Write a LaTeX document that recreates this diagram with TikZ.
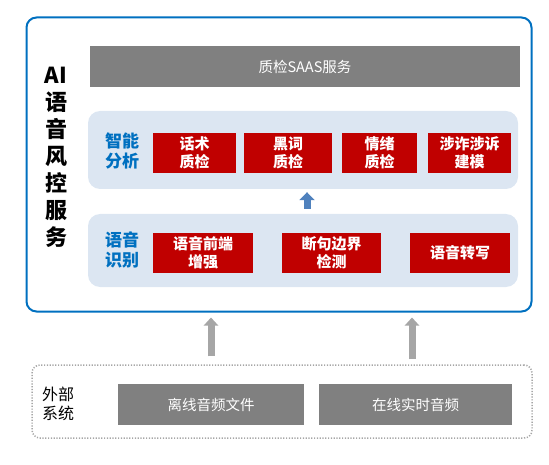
\documentclass[tikz,border=0pt]{standalone}
\usepackage{fontspec}
\setmainfont{Noto Sans CJK SC}
\usetikzlibrary{arrows.meta}

\definecolor{frameblue}{RGB}{0,112,192}
\definecolor{panelblue}{RGB}{220,230,242}
\definecolor{riskred}{RGB}{192,0,0}
\definecolor{bargray}{RGB}{128,128,128}
\definecolor{arrowgray}{RGB}{166,166,166}
\definecolor{arrowblue}{RGB}{79,129,189}

\tikzset{
  frame/.style={draw=frameblue, line width=2pt, rounded corners=10pt},
  panel/.style={fill=panelblue, rounded corners=12pt},
  redbox/.style={fill=riskred, text=white, align=center, inner sep=0pt,
    font=\bfseries\fontsize{15}{18}\selectfont},
  graybox/.style={fill=bargray, text=white, inner sep=0pt,
    font=\fontsize{14.5}{17}\selectfont},
  tag/.style={text=frameblue, align=center, font=\bfseries\fontsize{17}{20}\selectfont},
  bluearrow/.style={draw=arrowblue, line width=7pt, -{Triangle[width=15pt,length=8pt]}},
  grayarrow/.style={draw=arrowgray, line width=7pt, -{Triangle[width=14pt,length=8pt]}}
}

\begin{document}
\begin{tikzpicture}[x=1pt,y=-1pt]
\useasboundingbox (0,0) rectangle (549,465);

\node[frame, minimum width=505pt, minimum height=294pt] (main) at (279,164.5) {};

\node[align=center, font=\bfseries\fontsize{22}{27}\selectfont] (title) at (56,157)
  {AI\\语\\音\\风\\控\\服\\务};

\node[graybox, minimum width=430pt, minimum height=41pt] (saas) at (305,66.5) {质检SAAS服务};

\node[panel, minimum width=430pt, minimum height=78pt] (ai) at (303,150) {};
\node[panel, minimum width=430pt, minimum height=73pt] (asr) at (303,250.5) {};

\node[tag] (aitag) at (122,151) {智能\\分析};
\node[tag] (asrtag) at (122,250) {语音\\识别};

\node[redbox, minimum width=83pt, minimum height=40pt] (r1) at (194.5,153) {话术\\质检};
\node[redbox, minimum width=88pt, minimum height=40pt] (r2) at (288,153) {黑词\\质检};
\node[redbox, minimum width=75pt, minimum height=40pt] (r3) at (379.5,153) {情绪\\质检};
\node[redbox, minimum width=83pt, minimum height=40pt] (r4) at (469.5,153) {涉诈涉诉\\建模};

\node[redbox, minimum width=100pt, minimum height=40pt] (s1) at (203,253) {语音前端\\增强};
\node[redbox, minimum width=99pt, minimum height=40pt] (s2) at (331.5,253) {断句边界\\检测};
\node[redbox, minimum width=100pt, minimum height=40pt] (s3) at (460,253) {语音转写};

\node[draw=arrowgray, dash pattern=on 1.2pt off 1.6pt, line width=1.5pt, rounded corners=8pt,
  minimum width=500pt, minimum height=73pt] (ext) at (282,401.5) {};
\node[align=center, font=\fontsize{16}{19}\selectfont] (exttag) at (58,404) {外部\\系统};

\node[graybox, minimum width=186pt, minimum height=41pt] (offline) at (211,404.5) {离线音频文件};
\node[graybox, minimum width=193pt, minimum height=41pt] (online) at (415.5,404.5) {在线实时音频};

\path ([xshift=4pt]asr.north) edge [bluearrow, shorten <=5pt, shorten >=3pt] ([xshift=4pt]ai.south);

\path (offline.north |- ext.north) edge [grayarrow, shorten <=8pt, shorten >=5pt] (offline.north |- main.south);
\path ([xshift=-3.5pt]online.north |- ext.north) edge [grayarrow, shorten <=5pt, shorten >=5pt] ([xshift=-3.5pt]online.north |- main.south);

\end{tikzpicture}
\end{document}
